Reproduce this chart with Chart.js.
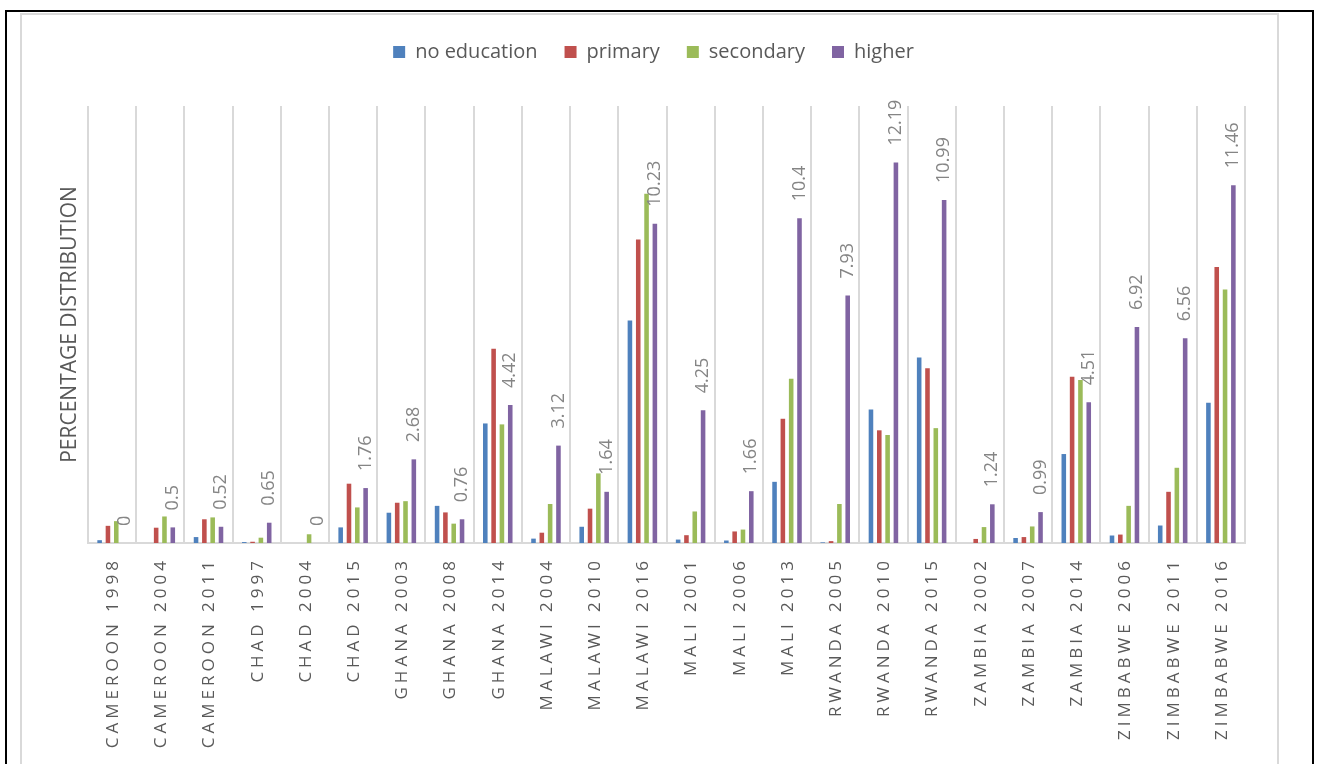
<!DOCTYPE html>
<html>
<head>
<meta charset="utf-8">
<script src="https://cdn.jsdelivr.net/npm/chart.js@4.4.1/dist/chart.umd.min.js"></script>
<style>
  html, body { margin: 0; padding: 0; background: #fff; overflow: hidden; }
  #outer { position: absolute; left: 5px; top: 10px; width: 1305px; height: 800px; border: 2px solid #000; }
  #inner { position: absolute; left: 20px; top: 13px; width: 1255px; height: 800px; border: 2px solid #d9d9d9; }
  #chart { position: absolute; left: 0; top: 0; }
</style>
</head>
<body>
<div id="outer"></div>
<div id="inner"></div>
<canvas id="chart" width="1317" height="764"></canvas>
<script>
// survey rounds
const surveys = ['CAMEROON 1998', 'CAMEROON 2004', 'CAMEROON 2011', 'CHAD 1997', 'CHAD 2004', 'CHAD 2015',
    'GHANA 2003', 'GHANA 2008', 'GHANA 2014', 'MALAWI 2004', 'MALAWI 2010', 'MALAWI 2016',
    'MALI 2001', 'MALI 2006', 'MALI 2013', 'RWANDA 2005', 'RWANDA 2010', 'RWANDA 2015',
    'ZAMBIA 2002', 'ZAMBIA 2007', 'ZAMBIA 2014', 'ZIMBABWE 2006', 'ZIMBABWE 2011', 'ZIMBABWE 2016'];

// percentage distribution per education level
const noEducation = [0.09, 0, 0.19, 0.03, 0, 0.50, 0.97, 1.19, 3.83, 0.14, 0.52, 7.13,
    0.11, 0.08, 1.96, 0.02, 4.28, 5.94, 0, 0.16, 2.85, 0.24, 0.56, 4.49];
const primary = [0.55, 0.49, 0.76, 0.04, 0, 1.90, 1.29, 0.98, 6.22, 0.33, 1.10, 9.72,
    0.25, 0.37, 3.98, 0.06, 3.61, 5.60, 0.13, 0.19, 5.33, 0.27, 1.64, 8.84];
const secondary = [0.70, 0.85, 0.82, 0.17, 0.28, 1.14, 1.34, 0.62, 3.80, 1.25, 2.23, 11.19,
    1.01, 0.43, 5.26, 1.25, 3.46, 3.68, 0.51, 0.53, 5.22, 1.19, 2.41, 8.12];
const higher = [0, 0.5, 0.52, 0.65, 0, 1.76, 2.68, 0.76, 4.42, 3.12, 1.64, 10.23,
    4.25, 1.66, 10.4, 7.93, 12.19, 10.99, 1.24, 0.99, 4.51, 6.92, 6.56, 11.46];

const yMax = 14;

// push the plot area down below the legend, and nudge the legend right
const legendGap = {
    id: 'legendGap',
    beforeInit(chart) {
        const fit = chart.legend.fit;
        chart.legend.fit = function () {
            fit.bind(chart.legend)();
            this.height += 34;
        };
    },
    afterLayout(chart) {
        chart.legend.left += 31;
        chart.legend.right += 31;
    }
};

// spaced-out category labels, drawn under each category
const catLabels = {
    id: 'catLabels',
    afterDraw(chart) {
        const ctx = chart.ctx;
        const x = chart.scales.x;
        ctx.save();
        ctx.font = '17px "Open Sans"';
        ctx.fillStyle = '#595959';
        ctx.letterSpacing = '4px';
        ctx.textAlign = 'right';
        ctx.textBaseline = 'middle';
        surveys.forEach((s, i) => {
            ctx.save();
            ctx.translate(x.getPixelForValue(i) + 1, chart.chartArea.bottom + 14);
            ctx.rotate(-Math.PI / 2);
            ctx.fillText(s, 0, 0);
            ctx.restore();
        });
        ctx.restore();
    }
};

// value labels above the "higher" bars
const higherLabels = {
    id: 'higherLabels',
    afterDatasetsDraw(chart) {
        const ctx = chart.ctx;
        const meta = chart.getDatasetMeta(3);
        ctx.save();
        ctx.font = '18px "Open Sans"';
        ctx.fillStyle = '#858585';
        ctx.textAlign = 'left';
        ctx.textBaseline = 'middle';
        meta.data.forEach((bar, i) => {
            ctx.save();
            ctx.translate(bar.x, bar.y - 17);
            ctx.rotate(-Math.PI / 2);
            ctx.fillText(String(higher[i]), 0, 0);
            ctx.restore();
        });
        ctx.restore();
    }
};

new Chart(document.getElementById('chart'), {
    type: 'bar',
    data: {
        labels: surveys,
        datasets: [
            { label: 'no education', data: noEducation, backgroundColor: '#4F81BD' },
            { label: 'primary', data: primary, backgroundColor: '#C0504D' },
            { label: 'secondary', data: secondary, backgroundColor: '#9BBB59' },
            { label: 'higher', data: higher, backgroundColor: '#8064A2' }
        ]
    },
    options: {
        responsive: false,
        devicePixelRatio: 1,
        animation: false,
        categoryPercentage: 0.69,
        barPercentage: 0.55,
        layout: { padding: { left: 0, right: 72, top: 15, bottom: 0 } },
        plugins: {
            legend: {
                position: 'top',
                labels: {
                    boxWidth: 12,
                    boxHeight: 12,
                    padding: 27,
                    color: '#595959',
                    font: { family: '"Open Sans"', size: 20 }
                }
            },
            tooltip: { enabled: false }
        },
        scales: {
            x: {
                grid: { color: '#d9d9d9', lineWidth: 2, drawTicks: false },
                border: { color: '#d9d9d9', width: 2 },
                ticks: { display: false },
                afterFit(scale) { scale.height = 221; }
            },
            y: {
                min: 0,
                max: yMax,
                grid: { display: false },
                border: { display: false },
                ticks: { display: false },
                title: {
                    display: true,
                    text: 'PERCENTAGE DISTRIBUTION',
                    color: '#595959',
                    font: { family: '"Open Sans"', size: 21 },
                    padding: { top: 57, bottom: 0 }
                },
                afterFit(scale) { scale.width = 88; }
            }
        }
    },
    plugins: [legendGap, catLabels, higherLabels]
});
</script>
</body>
</html>
